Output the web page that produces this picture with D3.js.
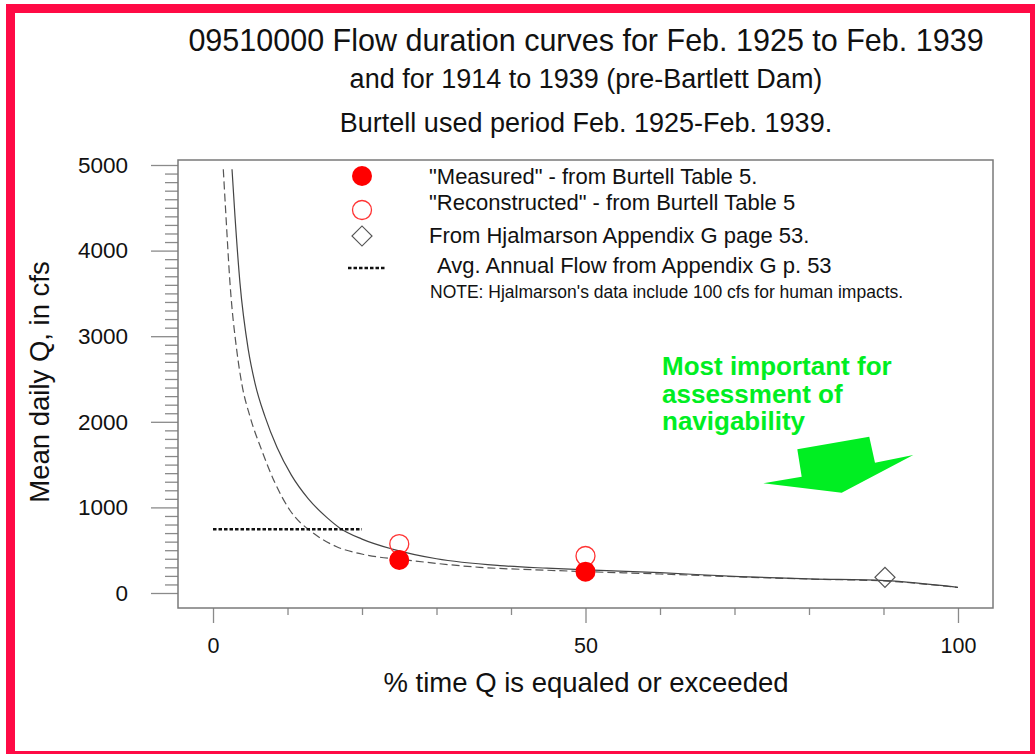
<!DOCTYPE html>
<html>
<head>
<meta charset="utf-8">
<script src="https://cdn.jsdelivr.net/npm/d3@7"></script>
<style>
  html, body { margin: 0; padding: 0; background: #fff; }
  svg { display: block; font-family: "Liberation Sans", Arial, sans-serif; }
</style>
</head>
<body>
<svg id="chart" width="1035" height="754"></svg>
<script>
// ---------- data ----------
const titleLines = [
  "09510000 Flow duration curves for Feb. 1925 to Feb. 1939",
  "and for 1914 to 1939 (pre-Bartlett Dam)",
  "Burtell used period Feb. 1925-Feb. 1939."
];
const xLabel = "% time Q is equaled or exceeded";
const yLabel = "Mean daily Q, in cfs";
const xTicks = [0, 50, 100];
const yTicks = [0, 1000, 2000, 3000, 4000, 5000];

// solid curve: 1914 to 1939 (pre-Bartlett Dam)
const solidPct = [2.55, 2.95, 3.62, 4.74, 5.64, 6.98, 8.6, 10.5, 12.8, 15.3, 17.0, 20.0, 24.2, 30, 38.5, 44.8, 50.2, 60, 70.7, 80, 90.2, 100];
const solidQ   = [4950, 4400, 3620, 2840, 2450, 2060, 1700, 1380, 1100, 880, 760, 630, 510, 400, 320, 290, 270, 237, 191, 165, 144, 66];
// dashed curve: Feb. 1925 to Feb. 1939
const dashPct = [1.38, 1.74, 2.28, 3.18, 3.85, 4.97, 6.53, 8.3, 10.3, 13.5, 16.6, 20.6, 26, 35.8, 44.8, 50.2, 60, 70.7, 80, 90.2, 100];
const dashQ   = [4950, 4400, 3620, 2840, 2450, 2060, 1670, 1290, 970, 697, 541, 444, 385, 300, 266, 249, 222, 188, 163, 140, 64];

const measuredPct = [25, 50];
const measuredQ   = [385, 249];
const reconPct = [25, 50];
const reconQ   = [572, 432];
const hjalPct = [90.2];
const hjalQ   = [183];
const avgFlowPct = [0, 20];
const avgFlowQ = 745;

const legendLabels = [
  "\"Measured\" - from Burtell Table 5.",
  "\"Reconstructed\" - from Burtell Table 5",
  "From Hjalmarson Appendix G page 53.",
  "Avg. Annual Flow from Appendix G p. 53"
];
const noteText = "NOTE: Hjalmarson's data include 100 cfs for human impacts.";
const annotationLines = ["Most important for", "assessment of", "navigability"];
// arrow outline in data units (% , cfs)
const arrowPct = [78.43, 88.09, 88.86, 94.0, 84.39, 73.87, 79.02];
const arrowQ   = [1679, 1826, 1522, 1612, 1172, 1282, 1359];

// ---------- layout ----------
const svg = d3.select("#chart");
const plot = { left: 178, right: 993, top: 160, bottom: 608 };

const x = d3.scaleLinear().domain([-4.70, 104.70]).range([plot.left, plot.right]);
const y = d3.scaleLinear().domain([-175.2, 5058.4]).range([plot.bottom, plot.top]);

svg.append("rect").attr("width", 1035).attr("height", 754).attr("fill", "#fff");

// red outer border
svg.append("rect")
  .attr("x", 10.5).attr("y", 8.5).attr("width", 1024).attr("height", 747)
  .attr("fill", "none").attr("stroke", "#ff0a45").attr("stroke-width", 9);

// title
const titleSizes = [30.5, 27, 27];
const titleY = [51, 88, 132];
titleLines.forEach((t, i) => {
  svg.append("text").attr("x", 586).attr("y", titleY[i])
    .attr("text-anchor", "middle").attr("font-size", titleSizes[i]).attr("fill", "#111")
    .text(t);
});

// axes
const axisColor = "#8a8a8a";
const yMinor = d3.range(0, 5001, 100).filter(v => v % 1000 !== 0);
const xMinor = d3.range(0, 101, 10).filter(v => v % 50 !== 0);

const gyMinor = svg.append("g").attr("transform", `translate(${plot.left},0)`)
  .call(d3.axisLeft(y).tickValues(yMinor).tickSize(13).tickFormat(""));
const gy = svg.append("g").attr("transform", `translate(${plot.left},0)`)
  .call(d3.axisLeft(y).tickValues(yTicks).tickSize(27).tickPadding(23).tickFormat(d3.format("d")));
const gxMinor = svg.append("g").attr("transform", `translate(0,${plot.bottom})`)
  .call(d3.axisBottom(x).tickValues(xMinor).tickSize(7).tickFormat(""));
const gx = svg.append("g").attr("transform", `translate(0,${plot.bottom})`)
  .call(d3.axisBottom(x).tickValues(xTicks).tickSize(15).tickPadding(15).tickFormat(d3.format("d")));

[gyMinor, gy, gxMinor, gx].forEach(g => {
  g.select(".domain").remove();
  g.selectAll(".tick line").attr("stroke", axisColor).attr("stroke-width", 1.3);
  g.selectAll(".tick text").attr("fill", "#111").attr("font-family", "Liberation Sans, Arial, sans-serif");
});
gy.selectAll(".tick text").attr("font-size", 22.5);
gx.selectAll(".tick text").attr("font-size", 21.5);

// plot frame
svg.append("rect")
  .attr("x", plot.left).attr("y", plot.top)
  .attr("width", plot.right - plot.left).attr("height", plot.bottom - plot.top)
  .attr("fill", "none").attr("stroke", "#7a7a7a").attr("stroke-width", 1.5);

// axis labels
svg.append("text").attr("x", 586).attr("y", 692).attr("text-anchor", "middle")
  .attr("font-size", 27.5).attr("fill", "#111").text(xLabel);
svg.append("text").attr("transform", "translate(49,382) rotate(-90)").attr("text-anchor", "middle")
  .attr("font-size", 27.5).attr("fill", "#111").text(yLabel);

// clip
svg.append("clipPath").attr("id", "clip").append("rect")
  .attr("x", plot.left).attr("y", plot.top)
  .attr("width", plot.right - plot.left).attr("height", plot.bottom - plot.top);
const g = svg.append("g").attr("clip-path", "url(#clip)");

const line = d3.line().x(d => x(d[0])).y(d => y(d[1])).curve(d3.curveMonotoneX);

g.append("path").datum(dashPct.map((p, i) => [p, dashQ[i]]))
  .attr("d", line).attr("fill", "none").attr("stroke", "#555")
  .attr("stroke-width", 1.2).attr("stroke-dasharray", "8,4");
g.append("path").datum(solidPct.map((p, i) => [p, solidQ[i]]))
  .attr("d", line).attr("fill", "none").attr("stroke", "#444").attr("stroke-width", 1.2);

// avg annual flow
g.append("line")
  .attr("x1", x(avgFlowPct[0])).attr("x2", x(avgFlowPct[1]))
  .attr("y1", y(avgFlowQ)).attr("y2", y(avgFlowQ))
  .attr("stroke", "#111").attr("stroke-width", 2.5).attr("stroke-dasharray", "3.5,2");

// points
const red = "#ff0000";
g.selectAll(".recon").data(reconPct.map((p, i) => [p, reconQ[i]])).enter().append("circle")
  .attr("cx", d => x(d[0])).attr("cy", d => y(d[1])).attr("r", 9.5)
  .attr("fill", "none").attr("stroke", "#ff3333").attr("stroke-width", 1.3);
g.selectAll(".meas").data(measuredPct.map((p, i) => [p, measuredQ[i]])).enter().append("circle")
  .attr("cx", d => x(d[0])).attr("cy", d => y(d[1])).attr("r", 10)
  .attr("fill", red);
const diamond = d3.symbol().type(d3.symbolSquare).size(200);
g.selectAll(".hjal").data(hjalPct.map((p, i) => [p, hjalQ[i]])).enter().append("path")
  .attr("d", diamond)
  .attr("transform", d => `translate(${x(d[0])},${y(d[1])}) rotate(45)`)
  .attr("fill", "none").attr("stroke", "#555").attr("stroke-width", 1.2);

// legend
const lg = svg.append("g");
lg.append("circle").attr("cx", 362).attr("cy", 176).attr("r", 10).attr("fill", red);
lg.append("circle").attr("cx", 362).attr("cy", 210).attr("r", 9.5)
  .attr("fill", "none").attr("stroke", "#ff3333").attr("stroke-width", 1.3);
lg.append("path").attr("d", diamond).attr("transform", "translate(362,236) rotate(45)")
  .attr("fill", "none").attr("stroke", "#555").attr("stroke-width", 1.2);
lg.append("line").attr("x1", 348).attr("x2", 385).attr("y1", 268).attr("y2", 268)
  .attr("stroke", "#111").attr("stroke-width", 2.5).attr("stroke-dasharray", "3.5,2");
const legendX = [429, 429, 429, 437];
const legendY = [184, 210, 243, 273];
legendLabels.forEach((t, i) => {
  lg.append("text").attr("x", legendX[i]).attr("y", legendY[i])
    .attr("font-size", 22).attr("fill", "#111").text(t);
});
lg.append("text").attr("x", 430).attr("y", 298).attr("font-size", 17.5).attr("fill", "#111").text(noteText);

// green annotation
const green = "#00ee22";
const annY = [375, 402.5, 430];
annotationLines.forEach((t, i) => {
  svg.append("text").attr("x", 662).attr("y", annY[i])
    .attr("font-size", 26).attr("font-weight", "bold").attr("fill", green).text(t);
});
svg.append("polygon")
  .attr("points", arrowPct.map((p, i) => `${x(p)},${y(arrowQ[i])}`).join(" "))
  .attr("fill", green);
</script>
</body>
</html>
